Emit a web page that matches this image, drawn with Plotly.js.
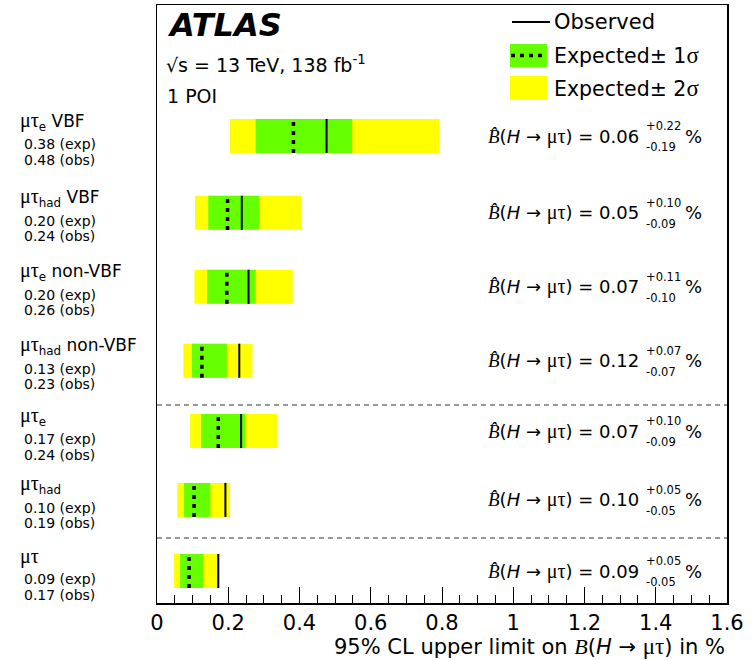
<!DOCTYPE html>
<html>
<head>
<meta charset="utf-8">
<script src="https://cdn.plot.ly/plotly-3.0.1.min.js"></script>
<style>html,body{margin:0;padding:0;background:#fff;}#chart{width:752px;height:660px;}</style>
</head>
<body>
<div id="chart"></div>
<script>
// ---- data ----
var channelBase = ['μτ', 'μτ', 'μτ', 'μτ', 'μτ', 'μτ', 'μτ'];
var channelSub = ['e', 'had', 'e', 'had', 'e', 'had', ''];
var channelTag = [' VBF', ' VBF', ' non-VBF', ' non-VBF', '', '', ''];
var expected = [0.383, 0.198, 0.196, 0.126, 0.172, 0.104, 0.090];
var observed = [0.476, 0.238, 0.257, 0.231, 0.236, 0.192, 0.172];
var minus1 = [0.277, 0.144, 0.141, 0.098, 0.124, 0.076, 0.065];
var plus1  = [0.548, 0.287, 0.277, 0.196, 0.247, 0.150, 0.130];
var minus2 = [0.205, 0.107, 0.105, 0.074, 0.093, 0.057, 0.048];
var plus2  = [0.793, 0.406, 0.381, 0.268, 0.337, 0.205, 0.175];
var bestFit = ['0.06', '0.05', '0.07', '0.12', '0.07', '0.10', '0.09'];
var errUp   = ['+0.22', '+0.10', '+0.11', '+0.07', '+0.10', '+0.05', '+0.05'];
var errDown = ['-0.19', '-0.09', '-0.10', '-0.07', '-0.09', '-0.05', '-0.05'];
var xTicks = [0, 0.2, 0.4, 0.6, 0.8, 1, 1.2, 1.4, 1.6];

// ---- layout constants ----
var rowY = [6.0, 4.94, 3.92, 2.90, 1.93, 0.98, 0];
var separators = [2.29, 0.455];
var barW = 0.469, half = 0.235;
var L = 157, R = 727, T = 5, B = 603;
function px(x) { return (x - L) / (R - L); }
function py(y) { return (B - y) / (B - T); }
var SANS = 'DejaVu Sans, Liberation Sans, Arial, sans-serif';
var SERIF = 'Liberation Serif';

var traces = [];
traces.push({
  type: 'bar', orientation: 'h', y: rowY, base: minus2,
  x: plus2.map(function (v, i) { return v - minus2[i]; }),
  width: barW, marker: { color: '#ffff00', line: { width: 0 } },
  hoverinfo: 'skip', showlegend: false
});
traces.push({
  type: 'bar', orientation: 'h', y: rowY, base: minus1,
  x: plus1.map(function (v, i) { return v - minus1[i]; }),
  width: barW, marker: { color: '#66ff00', line: { width: 0 } },
  hoverinfo: 'skip', showlegend: false
});
var ox = [], oy = [], ex = [], ey = [];
for (var i = 0; i < rowY.length; i++) {
  ox.push(observed[i], observed[i], null);
  oy.push(rowY[i] - half, rowY[i] + half, null);
  ex.push(expected[i], expected[i], null);
  ey.push(rowY[i] - half, rowY[i] + half, null);
}
traces.push({ type: 'scatter', mode: 'lines', x: ox, y: oy, line: { color: '#000', width: 2 }, hoverinfo: 'skip', showlegend: false });
traces.push({ type: 'scatter', mode: 'lines', x: ex, y: ey, line: { color: '#000', width: 3.5, dash: '4px,5px' }, hoverinfo: 'skip', showlegend: false });

var annotations = [];
var shapes = [];
function greek(t, size) {
  return '<span style="font-family:' + SERIF + (size ? ';font-size:' + size + 'px' : '') + '">' + t + '</span>';
}
function formula(size) {
  return greek('<i>B̂</i>', size + 1) + '(<i>H</i> → ' + greek('μτ', size + 2) + ')';
}
for (var i = 0; i < rowY.length; i++) {
  var title = greek(channelBase[i], 20) + (channelSub[i] ? '<sub>' + channelSub[i] + '</sub>' : '') + channelTag[i];
  annotations.push({ xref: 'paper', yref: 'y', x: px(18), y: rowY[i], yshift: 15, xanchor: 'left', yanchor: 'middle',
    text: title, showarrow: false, font: { family: SANS, size: 17, color: '#000' } });
  annotations.push({ xref: 'paper', yref: 'y', x: px(22), y: rowY[i], yshift: -8, xanchor: 'left', yanchor: 'middle',
    text: expected[i].toFixed(2) + ' (exp)', showarrow: false, font: { family: SANS, size: 14, color: '#000' } });
  annotations.push({ xref: 'paper', yref: 'y', x: px(22), y: rowY[i], yshift: -23.5, xanchor: 'left', yanchor: 'middle',
    text: observed[i].toFixed(2) + ' (obs)', showarrow: false, font: { family: SANS, size: 14, color: '#000' } });
  annotations.push({ xref: 'paper', yref: 'y', x: px(641), y: rowY[i], yshift: 0, xanchor: 'right', yanchor: 'middle',
    text: formula(18) + ' = ' + bestFit[i],
    showarrow: false, font: { family: SANS, size: 18, color: '#000' } });
  annotations.push({ xref: 'paper', yref: 'y', x: px(644), y: rowY[i], yshift: 10, xanchor: 'left', yanchor: 'middle',
    text: errUp[i], showarrow: false, font: { family: SANS, size: 11.5, color: '#000' } });
  annotations.push({ xref: 'paper', yref: 'y', x: px(644), y: rowY[i], yshift: -11, xanchor: 'left', yanchor: 'middle',
    text: errDown[i], showarrow: false, font: { family: SANS, size: 11.5, color: '#000' } });
  annotations.push({ xref: 'paper', yref: 'y', x: px(683), y: rowY[i], yshift: 0, xanchor: 'left', yanchor: 'middle',
    text: '%', showarrow: false, font: { family: SANS, size: 18, color: '#000' } });
}
separators.forEach(function (s) {
  shapes.push({ type: 'line', xref: 'paper', yref: 'y', x0: 0, x1: 1, y0: s, y1: s, line: { color: '#777', width: 1.5, dash: '5px,4px' } });
});

// header texts
annotations.push({ xref: 'paper', yref: 'paper', x: px(165), y: py(25), xanchor: 'left', yanchor: 'middle', showarrow: false,
  text: '<b><i>ATLAS</i></b>', font: { family: SANS, size: 32, color: '#000' } });
annotations.push({ xref: 'paper', yref: 'paper', x: px(164), y: py(64), xanchor: 'left', yanchor: 'middle', showarrow: false,
  text: '√s = 13 TeV, 138 fb<sup>-1</sup>', font: { family: SANS, size: 19, color: '#000' } });
annotations.push({ xref: 'paper', yref: 'paper', x: px(165), y: py(96), xanchor: 'left', yanchor: 'middle', showarrow: false,
  text: '1 POI', font: { family: SANS, size: 19, color: '#000' } });

// legend
shapes.push({ type: 'line', xref: 'paper', yref: 'paper', x0: px(512), x1: px(550), y0: py(22), y1: py(22), line: { color: '#000', width: 2 } });
shapes.push({ type: 'rect', xref: 'paper', yref: 'paper', x0: px(510), x1: px(547), y0: py(44), y1: py(67), fillcolor: '#66ff00', line: { width: 0 } });
shapes.push({ type: 'line', xref: 'paper', yref: 'paper', x0: px(511), x1: px(547), y0: py(55.5), y1: py(55.5), line: { color: '#000', width: 3.5, dash: '4px,5px' } });
shapes.push({ type: 'rect', xref: 'paper', yref: 'paper', x0: px(510), x1: px(547), y0: py(76), y1: py(100), fillcolor: '#ffff00', line: { width: 0 } });
annotations.push({ xref: 'paper', yref: 'paper', x: px(552), y: py(22), xanchor: 'left', yanchor: 'middle', showarrow: false,
  text: 'Observed', font: { family: SANS, size: 21, color: '#000' } });
annotations.push({ xref: 'paper', yref: 'paper', x: px(552), y: py(55), xanchor: 'left', yanchor: 'middle', showarrow: false,
  text: 'Expected± 1' + greek('σ', 23), font: { family: SANS, size: 20.5, color: '#000' } });
annotations.push({ xref: 'paper', yref: 'paper', x: px(552), y: py(88), xanchor: 'left', yanchor: 'middle', showarrow: false,
  text: 'Expected± 2' + greek('σ', 23), font: { family: SANS, size: 20.5, color: '#000' } });

// x-axis title (right aligned)
annotations.push({ xref: 'paper', yref: 'paper', x: 1, y: py(646), xanchor: 'right', yanchor: 'middle', showarrow: false,
  text: '95% CL upper limit on ' + greek('<i>B</i>', 22) + '(<i>H</i> → ' + greek('μτ', 23) + ') in %',
  font: { family: SANS, size: 21, color: '#000' } });

var layout = {
  width: 752, height: 660,
  margin: { l: L, r: 752 - R, t: T, b: 660 - B, pad: 0 },
  paper_bgcolor: '#fff', plot_bgcolor: '#fff',
  barmode: 'overlay', showlegend: false,
  font: { family: SANS, color: '#000' },
  xaxis: {
    range: [0, 1.6], tickvals: xTicks, ticktext: xTicks.map(String),
    ticks: 'inside', ticklen: 16, tickwidth: 1, tickcolor: '#000',
    minor: { dtick: 0.05, tick0: 0, ticks: 'inside', ticklen: 8, tickwidth: 1, tickcolor: '#000', showgrid: false },
    showline: true, mirror: true, linecolor: '#000', linewidth: 1.5,
    showgrid: false, zeroline: false, tickfont: { family: SANS, size: 21, color: '#000' }, fixedrange: true
  },
  yaxis: {
    range: [-0.4414, 7.807], showticklabels: false, ticks: '',
    showline: true, mirror: true, linecolor: '#000', linewidth: 1.5,
    showgrid: false, zeroline: false, fixedrange: true
  },
  shapes: shapes,
  annotations: annotations
};
Plotly.newPlot('chart', traces, layout, { displayModeBar: false, staticPlot: true });
</script>
</body>
</html>
